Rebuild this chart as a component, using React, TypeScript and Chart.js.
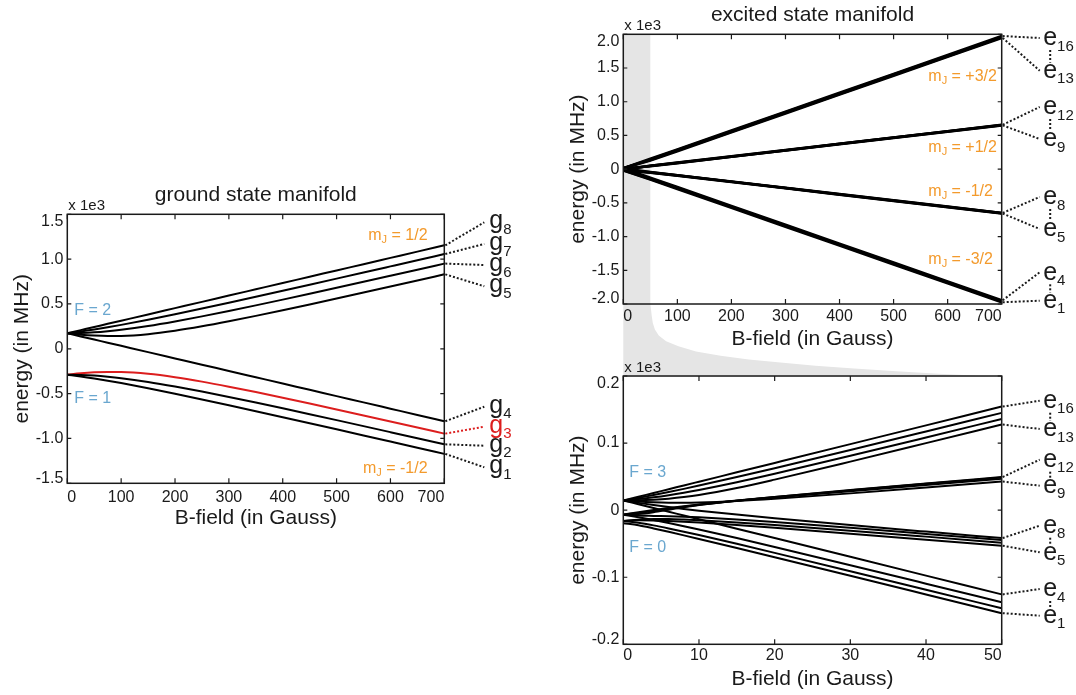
import React, { useEffect, useRef } from "react";
import { Chart, registerables } from "chart.js";

Chart.register(...registerables);

const FONT = '"Liberation Sans", Arial, Helvetica, sans-serif';
const INK = "#1a1a1a";
const ORANGE = "#f39a2c";
const BLUE = "#6aa7cf";
const RED = "#dc1e1e";
const SHADE = "#e5e5e5";

// ================= DATA =================
// ground state manifold: B-field (G) vs energy (MHz)
const groundField = [0, 25, 50, 75, 100, 150, 200, 250, 300, 350, 400, 450, 500, 550, 600, 650, 700];
const groundG8 = [173.2, 208.2, 243.2, 278.3, 313.3, 383.3, 453.4, 523.5, 593.5, 663.6, 733.7, 803.7, 873.8, 943.8, 1013.9, 1084.0, 1154.0];
const groundG7 = [173.2, 192.5, 215.0, 240.0, 266.8, 324.4, 385.6, 449.1, 514.2, 580.3, 647.2, 714.6, 782.5, 850.7, 919.2, 987.8, 1056.7];
const groundG6 = [173.2, 175.8, 183.5, 196.0, 212.3, 254.5, 305.4, 361.8, 421.9, 484.4, 548.5, 613.8, 680.0, 746.8, 814.2, 881.9, 950.0];
const groundG5 = [173.2, 157.8, 147.3, 142.5, 143.7, 163.5, 201.4, 250.8, 307.0, 367.3, 430.2, 494.9, 560.7, 627.4, 694.7, 762.4, 830.5];
const groundG4 = [173.2, 138.1, 103.1, 68.0, 33.0, -37.0, -107.1, -177.2, -247.2, -317.3, -387.4, -457.4, -527.5, -597.5, -667.6, -737.7, -807.7];
const groundG3 = [-288.6, -273.2, -262.7, -257.9, -259.1, -278.9, -316.8, -366.2, -422.4, -482.7, -545.6, -610.3, -676.1, -742.8, -810.1, -877.8, -945.9];
const groundG2 = [-288.6, -291.2, -298.9, -311.4, -327.7, -369.9, -420.8, -477.2, -537.3, -599.8, -663.9, -729.2, -795.4, -862.2, -929.6, -997.3, -1065.4];
const groundG1 = [-288.6, -307.9, -330.4, -355.4, -382.2, -439.8, -501.0, -564.5, -629.6, -695.7, -762.6, -830.0, -897.9, -966.1, -1034.6, -1103.2, -1172.1];
const groundXTicks = [0, 100, 200, 300, 400, 500, 600, 700];
const groundXTickLabels = ["0", "100", "200", "300", "400", "500", "600", "700"];
const groundYTicks = [-1500, -1000, -500, 0, 500, 1000, 1500];
const groundYTickLabels = ["-1.5", "-1.0", "-0.5", "0", "0.5", "1.0", "1.5"];

// excited state manifold, full range
const excitedField = [0, 50, 100, 200, 300, 400, 500, 600, 700];
const exMp3 = [14, 154, 294, 574, 854, 1134, 1414, 1694, 1974];
const exMp2a = [14, 145, 284, 564, 844, 1124, 1404, 1684, 1964];
const exMp1a = [14, 136, 275, 555, 835, 1115, 1395, 1675, 1955];
const exM0a = [14, 128, 266, 546, 826, 1106, 1386, 1666, 1946];
const exMp2b = [-7, 49, 98, 191, 285, 378, 471, 564, 658];
const exMp1b = [-7, 49, 95, 188, 281, 375, 468, 561, 655];
const exM0b = [-7, 47, 92, 185, 278, 372, 465, 558, 652];
const exMm1a = [14, 43, 89, 182, 275, 369, 462, 555, 649];
const exMm2a = [14, -42, -89, -182, -275, -369, -462, -555, -649];
const exMm1b = [-7, -45, -92, -185, -278, -372, -465, -558, -652];
const exM0c = [-16, -49, -95, -188, -281, -375, -468, -561, -655];
const exMp1c = [-16, -53, -98, -191, -285, -378, -471, -564, -658];
const exMm3 = [14, -126, -265, -545, -825, -1105, -1385, -1665, -1945];
const exMm2b = [-7, -137, -275, -555, -835, -1115, -1395, -1675, -1955];
const exMm1c = [-16, -146, -284, -564, -844, -1124, -1404, -1684, -1964];
const exM0d = [-19, -154, -294, -574, -854, -1134, -1414, -1694, -1974];
const excitedYTicks = [-2000, -1500, -1000, -500, 0, 500, 1000, 1500, 2000];
const excitedYTickLabels = ["-2.0", "-1.5", "-1.0", "-0.5", "0", "0.5", "1.0", "1.5", "2.0"];

// excited state manifold, low-field zoom
const zoomField = [0, 2, 4, 6, 8, 10, 15, 20, 30, 40, 50];
const zMp3 = [14.4, 20.0, 25.6, 31.2, 36.8, 42.4, 56.4, 70.4, 98.4, 126.4, 154.4];
const zMp2a = [14.4, 18.3, 22.51, 26.99, 31.7, 36.6, 49.37, 62.61, 89.75, 117.29, 144.99];
const zMp2b = [-6.7, -3.13, 0.12, 3.1, 5.86, 8.43, 14.32, 19.74, 29.92, 39.71, 49.33];
const zMp1a = [14.4, 16.53, 19.19, 22.37, 26.03, 30.12, 41.66, 54.32, 80.99, 108.35, 135.99];
const zMp1b = [-6.7, -4.26, -1.15, 2.08, 5.14, 7.97, 14.17, 19.6, 29.59, 39.18, 48.63];
const zMp1c = [-16.1, -15.07, -15.25, -16.05, -17.18, -18.49, -22.24, -26.34, -35.01, -43.96, -53.05];
const zM0a = [14.4, 14.7, 15.61, 17.17, 19.45, 22.51, 32.96, 45.51, 72.37, 99.93, 127.68];
const zM0b = [-6.7, -5.78, -3.06, 0.58, 4.25, 7.55, 13.98, 19.04, 28.3, 37.45, 46.63];
const zM0c = [-16.1, -14.24, -13.12, -13.21, -13.91, -14.93, -18.24, -22.12, -30.58, -39.47, -48.53];
const zM0d = [-19.4, -22.48, -27.23, -32.33, -37.58, -42.93, -56.49, -70.23, -97.89, -125.71, -153.58];
const zMm1a = [14.4, 12.8, 11.72, 11.17, 11.1, 11.45, 13.67, 17.0, 25.01, 33.71, 42.67];
const zMm1b = [-6.7, -8.0, -8.61, -9.12, -9.79, -10.69, -13.83, -17.72, -26.39, -35.47, -44.68];
const zMm1c = [-16.1, -18.8, -22.71, -27.25, -32.11, -37.15, -50.23, -63.66, -90.99, -118.6, -146.36];
const zMm2a = [14.4, 10.83, 7.58, 4.6, 1.84, -0.73, -6.62, -12.04, -22.22, -32.01, -41.63];
const zMm2b = [-6.7, -10.6, -14.81, -19.29, -24.0, -28.9, -41.67, -54.91, -82.05, -109.59, -137.29];
const zMm3 = [14.4, 8.8, 3.2, -2.4, -8.0, -13.6, -27.6, -41.6, -69.6, -97.6, -125.6];
const zoomXTicks = [0, 10, 20, 30, 40, 50];
const zoomXTickLabels = ["0", "10", "20", "30", "40", "50"];
const zoomYTicks = [-200, -100, 0, 100, 200];
const zoomYTickLabels = ["-0.2", "-0.1", "0", "0.1", "0.2"];

const shadedField = 50;

// ================= DRAWING HELPERS =================
type Part = { t: string; size: number; dy?: number };

function drawRich(ctx: CanvasRenderingContext2D, parts: Part[], x: number, baseline: number, color: string, align: "left" | "right") {
  const widths = parts.map((p) => {
    ctx.font = `${p.size}px ${FONT}`;
    return ctx.measureText(p.t).width;
  });
  const total = widths.reduce((a, b) => a + b, 0);
  let cx = align === "right" ? x - total : x;
  ctx.fillStyle = color;
  ctx.textAlign = "left";
  ctx.textBaseline = "alphabetic";
  parts.forEach((p, i) => {
    ctx.font = `${p.size}px ${FONT}`;
    ctx.fillText(p.t, cx, baseline + (p.dy || 0));
    cx += widths[i];
  });
}

const mj = (rest: string): Part[] => [
  { t: "m", size: 16 },
  { t: "J", size: 11, dy: 3 },
  { t: rest, size: 16 },
];

type Note = { parts: Part[]; color: string; dx: number; dy: number; from: "left" | "right" };
type Tag = { letter: string; sub: string; value: number; y: number; color: string };
type Series = { x: number[]; y: number[]; color: string; width: number; smooth: boolean };

interface Spec {
  series: Series[];
  xMin: number; xMax: number; yMin: number; yMax: number;
  xTicks: number[]; xTickLabels: string[]; yTicks: number[]; yTickLabels: string[];
  pad: { top: number; right: number; bottom: number };
  yAxisWidth: number;
  xLabelPad: number;
  title: string; xTitle: string; yTitle: string;
  shadeTo?: number;
  notes: Note[];
  tags: Tag[];
  tagLineDx: number; tagTextDx: number; tagBaseDy: number;
  pairs: [number, number][];
  pairDx: number;
}

const FUNNEL: [number, number][] = [
  [0.002, 0.08], [0.004, 0.16], [0.007, 0.26], [0.013, 0.35], [0.024, 0.43], [0.045, 0.51],
  [0.08, 0.58], [0.13, 0.65], [0.2, 0.71], [0.28, 0.76], [0.37, 0.8], [0.47, 0.845],
  [0.58, 0.885], [0.7, 0.92], [0.82, 0.955], [0.92, 0.98], [1, 1],
];

function decor(spec: Spec) {
  return {
    id: "decor",
    beforeDraw(chart: any) {
      if (spec.shadeTo == null) return;
      const { ctx, chartArea: a, scales } = chart;
      const x0 = scales.x.getPixelForValue(spec.xMin);
      const x1 = scales.x.getPixelForValue(spec.shadeTo);
      const H = chart.height;
      const depth = H - a.bottom;
      const span = a.right - x1;
      ctx.save();
      ctx.fillStyle = SHADE;
      ctx.beginPath();
      ctx.moveTo(x0, a.top);
      ctx.lineTo(x1, a.top);
      ctx.lineTo(x1, a.bottom);
      for (const [u, v] of FUNNEL) ctx.lineTo(x1 + u * span, a.bottom + v * depth);
      ctx.lineTo(x0, H);
      ctx.closePath();
      ctx.fill();
      ctx.restore();
    },
    afterDatasetsDraw(chart: any) {
      const { ctx, chartArea: a, scales } = chart;
      ctx.save();
      ctx.strokeStyle = INK;
      ctx.lineWidth = 1.5;
      ctx.setLineDash([]);
      ctx.strokeRect(a.left, a.top, a.right - a.left, a.bottom - a.top);
      ctx.lineWidth = 1.2;
      ctx.beginPath();
      for (const v of spec.xTicks) {
        const p = scales.x.getPixelForValue(v);
        ctx.moveTo(p, a.bottom);
        ctx.lineTo(p, a.bottom - 5);
        ctx.moveTo(p, a.top);
        ctx.lineTo(p, a.top + 5);
      }
      for (const v of spec.yTicks) {
        const p = scales.y.getPixelForValue(v);
        ctx.moveTo(a.left, p);
        ctx.lineTo(a.left + 4, p);
        ctx.moveTo(a.right, p);
        ctx.lineTo(a.right - 4, p);
      }
      ctx.stroke();
      ctx.restore();
    },
    afterDraw(chart: any) {
      const { ctx, chartArea: a, scales } = chart;
      ctx.save();
      // y tick labels
      ctx.font = `16px ${FONT}`;
      ctx.fillStyle = INK;
      ctx.textAlign = "right";
      ctx.textBaseline = "middle";
      spec.yTicks.forEach((v, i) => {
        let p = scales.y.getPixelForValue(v);
        p = Math.max(p, a.top + 7.4);
        p = Math.min(p, a.bottom - 5);
        ctx.fillText(spec.yTickLabels[i], a.left - 4, p);
      });
      // titles
      ctx.textAlign = "center";
      ctx.font = `21px ${FONT}`;
      ctx.fillText(spec.title, (a.left + a.right) / 2, a.top - 19);
      ctx.fillText(spec.xTitle, (a.left + a.right) / 2, a.bottom + 35);
      ctx.save();
      ctx.translate(a.left - 45, (a.top + a.bottom) / 2);
      ctx.rotate(-Math.PI / 2);
      ctx.fillText(spec.yTitle, 0, 0);
      ctx.restore();
      // multiplier
      ctx.textAlign = "left";
      ctx.font = `15px ${FONT}`;
      ctx.fillText("x 1e3", a.left + 1, a.top - 8);
      // notes
      for (const n of spec.notes) {
        const x = n.from === "left" ? a.left + n.dx : a.right - n.dx;
        drawRich(ctx, n.parts, x, a.top + n.dy + 5.7, n.color, n.from);
      }
      // tags with dotted connectors
      ctx.lineWidth = 2;
      ctx.setLineDash([2, 2]);
      for (const t of spec.tags) {
        const y0 = scales.y.getPixelForValue(t.value);
        const yl = a.top + t.y;
        ctx.strokeStyle = t.color;
        ctx.beginPath();
        ctx.moveTo(a.right + 1, y0);
        ctx.lineTo(a.right + spec.tagLineDx, yl - 1);
        ctx.stroke();
        drawRich(ctx, [{ t: t.letter, size: 25 }, { t: t.sub, size: 15, dy: 5.5 }], a.right + spec.tagTextDx, yl + spec.tagBaseDy, t.color, "left");
      }
      ctx.strokeStyle = INK;
      for (const [u, l] of spec.pairs) {
        const yu = a.top + spec.tags[u].y + 11;
        const yb = a.top + spec.tags[l].y - 9;
        ctx.beginPath();
        ctx.moveTo(a.right + spec.pairDx, yu);
        ctx.lineTo(a.right + spec.pairDx, yb);
        ctx.stroke();
      }
      ctx.restore();
    },
  };
}

function buildChart(canvas: HTMLCanvasElement, spec: Spec) {
  const datasets = spec.series.map((s) => ({
    data: s.x.map((x, i) => ({ x, y: s.y[i] })),
    borderColor: s.color,
    borderWidth: s.width,
    pointRadius: 0,
    pointHoverRadius: 0,
    fill: false,
    tension: 0,
    cubicInterpolationMode: s.smooth ? "monotone" : "default",
  }));
  return new Chart(canvas, {
    type: "line",
    data: { datasets } as any,
    options: {
      responsive: false,
      animation: false,
      events: [],
      layout: { autoPadding: false, padding: { left: 0, top: spec.pad.top, right: spec.pad.right, bottom: spec.pad.bottom } },
      plugins: { legend: { display: false }, tooltip: { enabled: false }, title: { display: false } },
      scales: {
        x: {
          type: "linear",
          min: spec.xMin,
          max: spec.xMax,
          grid: { display: false, drawTicks: false },
          border: { display: false },
          afterBuildTicks: (s: any) => { s.ticks = spec.xTicks.map((v) => ({ value: v })); },
          afterFit: (s: any) => { s.height = 30; },
          ticks: {
            align: "inner",
            autoSkip: false,
            maxRotation: 0,
            minRotation: 0,
            padding: spec.xLabelPad,
            color: INK,
            font: { family: FONT, size: 16 },
            callback: (_v: any, i: number) => spec.xTickLabels[i],
          },
        },
        y: {
          type: "linear",
          min: spec.yMin,
          max: spec.yMax,
          grid: { display: false, drawTicks: false },
          border: { display: false },
          afterBuildTicks: (s: any) => { s.ticks = spec.yTicks.map((v) => ({ value: v })); },
          afterFit: (s: any) => { s.width = spec.yAxisWidth; },
          ticks: { display: false },
        },
      },
    } as any,
    plugins: [decor(spec) as any],
  });
}

const last = (arr: number[]) => arr[arr.length - 1];

const groundSpec: Spec = {
  series: [
    { x: groundField, y: groundG8, color: "#000", width: 2, smooth: true },
    { x: groundField, y: groundG7, color: "#000", width: 2, smooth: true },
    { x: groundField, y: groundG6, color: "#000", width: 2, smooth: true },
    { x: groundField, y: groundG5, color: "#000", width: 2, smooth: true },
    { x: groundField, y: groundG4, color: "#000", width: 2, smooth: true },
    { x: groundField, y: groundG2, color: "#000", width: 2, smooth: true },
    { x: groundField, y: groundG1, color: "#000", width: 2, smooth: true },
    { x: groundField, y: groundG3, color: RED, width: 2, smooth: true },
  ],
  xMin: 0, xMax: 700, yMin: -1500, yMax: 1500,
  xTicks: groundXTicks, xTickLabels: groundXTickLabels, yTicks: groundYTicks, yTickLabels: groundYTickLabels,
  pad: { top: 44.3, right: 115.7, bottom: 26.7 },
  yAxisWidth: 67.3,
  xLabelPad: 4.5,
  title: "ground state manifold",
  xTitle: "B-field (in Gauss)",
  yTitle: "energy (in MHz)",
  notes: [
    { parts: [{ t: "F = 2", size: 16 }], color: BLUE, dx: 7, dy: 95, from: "left" },
    { parts: [{ t: "F = 1", size: 16 }], color: BLUE, dx: 7, dy: 183, from: "left" },
    { parts: mj(" = 1/2"), color: ORANGE, dx: 16.7, dy: 20, from: "right" },
    { parts: mj(" = -1/2"), color: ORANGE, dx: 16.7, dy: 253, from: "right" },
  ],
  tags: [
    { letter: "g", sub: "8", value: last(groundG8), y: 9.0, color: INK },
    { letter: "g", sub: "7", value: last(groundG7), y: 30.7, color: INK },
    { letter: "g", sub: "6", value: last(groundG6), y: 51.7, color: INK },
    { letter: "g", sub: "5", value: last(groundG5), y: 73.0, color: INK },
    { letter: "g", sub: "4", value: last(groundG4), y: 193.4, color: INK },
    { letter: "g", sub: "3", value: last(groundG3), y: 213.4, color: RED },
    { letter: "g", sub: "2", value: last(groundG2), y: 232.4, color: INK },
    { letter: "g", sub: "1", value: last(groundG1), y: 254.0, color: INK },
  ],
  tagLineDx: 40, tagTextDx: 45, tagBaseDy: 5,
  pairs: [],
  pairDx: 0,
};

const exList = [exMp3, exMp2a, exMp1a, exM0a, exMp2b, exMp1b, exM0b, exMm1a, exMm2a, exMm1b, exM0c, exMp1c, exMm3, exMm2b, exMm1c, exM0d];
const excitedSpec: Spec = {
  series: exList.map((y) => ({ x: excitedField, y, color: "#000", width: 2.5, smooth: false })),
  xMin: 0, xMax: 700, yMin: -2000, yMax: 2000,
  xTicks: groundXTicks, xTickLabels: groundXTickLabels, yTicks: excitedYTicks, yTickLabels: excitedYTickLabels,
  pad: { top: 34.3, right: 74.3, bottom: 43 },
  yAxisWidth: 63.3,
  xLabelPad: 3,
  title: "excited state manifold",
  xTitle: "B-field (in Gauss)",
  yTitle: "energy (in MHz)",
  shadeTo: shadedField,
  notes: [
    { parts: mj(" = +3/2"), color: ORANGE, dx: 305, dy: 40.7, from: "left" },
    { parts: mj(" = +1/2"), color: ORANGE, dx: 305, dy: 112.4, from: "left" },
    { parts: mj(" = -1/2"), color: ORANGE, dx: 305, dy: 155.7, from: "left" },
    { parts: mj(" = -3/2"), color: ORANGE, dx: 305, dy: 224, from: "left" },
  ],
  tags: [
    { letter: "e", sub: "16", value: last(exMp3), y: 4.7, color: INK },
    { letter: "e", sub: "13", value: last(exM0a), y: 37.4, color: INK },
    { letter: "e", sub: "12", value: last(exMp2b), y: 73.7, color: INK },
    { letter: "e", sub: "9", value: last(exMm1a), y: 105.7, color: INK },
    { letter: "e", sub: "8", value: last(exMm2a), y: 163.7, color: INK },
    { letter: "e", sub: "5", value: last(exMp1c), y: 195.7, color: INK },
    { letter: "e", sub: "4", value: last(exMm3), y: 239, color: INK },
    { letter: "e", sub: "1", value: last(exM0d), y: 267.4, color: INK },
  ],
  tagLineDx: 38, tagTextDx: 41.5, tagBaseDy: 6.2,
  pairs: [[0, 1], [2, 3], [4, 5], [6, 7]],
  pairDx: 48.5,
};

const zList = [zMp3, zMp2a, zMp1a, zM0a, zMp2b, zMp1b, zM0b, zMm1a, zMm2a, zMm1b, zM0c, zMp1c, zMm3, zMm2b, zMm1c, zM0d];
const zoomSpec: Spec = {
  series: zList.map((y) => ({ x: zoomField, y, color: "#000", width: 2, smooth: true })),
  xMin: 0, xMax: 50, yMin: -200, yMax: 200,
  xTicks: zoomXTicks, xTickLabels: zoomXTickLabels, yTicks: zoomYTicks, yTickLabels: zoomYTickLabels,
  pad: { top: 36, right: 74.3, bottom: 20.7 },
  yAxisWidth: 63.3,
  xLabelPad: 1.5,
  title: "",
  xTitle: "B-field (in Gauss)",
  yTitle: "energy (in MHz)",
  notes: [
    { parts: [{ t: "F = 3", size: 16 }], color: BLUE, dx: 6, dy: 95.7, from: "left" },
    { parts: [{ t: "F = 0", size: 16 }], color: BLUE, dx: 6, dy: 170.7, from: "left" },
  ],
  tags: [
    { letter: "e", sub: "16", value: last(zMp3), y: 25.7, color: INK },
    { letter: "e", sub: "13", value: last(zM0a), y: 54, color: INK },
    { letter: "e", sub: "12", value: last(zMp2b), y: 84.7, color: INK },
    { letter: "e", sub: "9", value: last(zMm1a), y: 110.7, color: INK },
    { letter: "e", sub: "8", value: last(zMm2a), y: 150.7, color: INK },
    { letter: "e", sub: "5", value: last(zMp1c), y: 177.3, color: INK },
    { letter: "e", sub: "4", value: last(zMm3), y: 214, color: INK },
    { letter: "e", sub: "1", value: last(zM0d), y: 240.7, color: INK },
  ],
  tagLineDx: 38, tagTextDx: 41.5, tagBaseDy: 6.2,
  pairs: [[0, 1], [2, 3], [4, 5], [6, 7]],
  pairDx: 48.5,
};

export default function App() {
  const refA = useRef<HTMLCanvasElement>(null);
  const refB = useRef<HTMLCanvasElement>(null);
  const refC = useRef<HTMLCanvasElement>(null);

  useEffect(() => {
    const charts: Chart[] = [];
    if (refA.current) charts.push(buildChart(refA.current, groundSpec));
    if (refB.current) charts.push(buildChart(refB.current, excitedSpec));
    if (refC.current) charts.push(buildChart(refC.current, zoomSpec));
    return () => charts.forEach((c) => c.destroy());
  }, []);

  return (
    <div style={{ position: "fixed", left: 0, top: 0, width: 1076, height: 695, background: "#fff", overflow: "hidden" }}>
      <canvas ref={refA} width={560} height={370} style={{ position: "absolute", left: 0, top: 170, width: 560, height: 370 }} />
      <canvas ref={refB} width={516} height={377} style={{ position: "absolute", left: 560, top: 0, width: 516, height: 377 }} />
      <canvas ref={refC} width={516} height={355} style={{ position: "absolute", left: 560, top: 340, width: 516, height: 355 }} />
    </div>
  );
}
